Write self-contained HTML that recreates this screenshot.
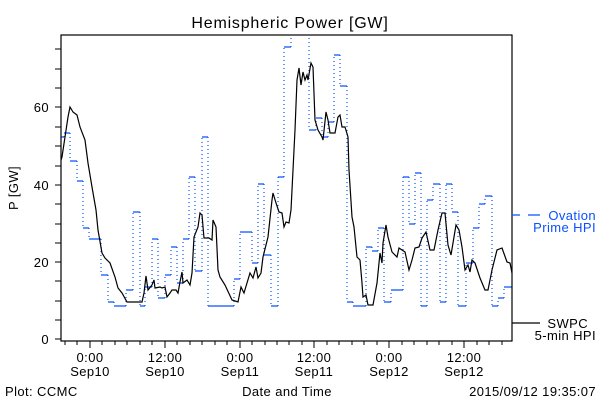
<!DOCTYPE html>
<html><head><meta charset="utf-8"><style>
html,body{margin:0;padding:0;background:#fff;}
svg{display:block;font-family:"Liberation Sans",sans-serif;}
text{letter-spacing:0.4px;}
</style></head><body>
<svg width="600" height="400" viewBox="0 0 600 400" xmlns="http://www.w3.org/2000/svg">
<rect width="600" height="400" fill="#fff"/>
<text x="290" y="28" font-size="16" text-anchor="middle" style="letter-spacing:0.8px">Hemispheric Power [GW]</text>
<defs><clipPath id="c"><rect x="61" y="35" width="451" height="306"/></clipPath></defs>
<g clip-path="url(#c)">
<g id="blue" stroke="#0a50ff" stroke-width="1.2" fill="none">
<path d="M61,137H64 M64,133H70 M70,161H77 M77,181H83 M83,228H89 M89,239H101 M101,275H108 M108,302H114 M114,306H126 M126,290H133 M133,212H140 M140,306H145 M145,287H152 M152,239H158 M158,298H165 M165,275H171 M171,247H177 M177,283H183 M183,239H189 M189,177H195 M195,271H202 M202,137H208 M208,306H234 M234,279H240 M240,232H252 M252,263H258 M258,184H264 M264,255H271 M271,306H278 M278,177H284 M284,47H291 M291,30H309 M309,130H316 M316,118H322 M322,137H328 M328,122H334 M334,55H340 M340,86H347 M347,302H353 M353,306H366 M366,247H372 M372,251H378 M378,228H384 M384,302H391 M391,290H403 M403,177H409 M409,224H415 M415,173H421 M421,306H427 M427,200H433 M433,184H440 M440,302H446 M446,184H452 M452,212H458 M458,306H466 M466,263H473 M473,228H479 M479,204H485 M485,196H492 M492,306H498 M498,298H504 M504,287H510 M510,287H512"/>
<path stroke-dasharray="1,3" d="M64,137V133 M70,133V161 M77,161V181 M83,181V228 M89,228V239 M101,239V275 M108,275V302 M114,302V306 M126,306V290 M133,290V212 M140,212V306 M145,306V287 M152,287V239 M158,239V298 M165,298V275 M171,275V247 M177,247V283 M183,283V239 M189,239V177 M195,177V271 M202,271V137 M208,137V306 M234,306V279 M240,279V232 M252,232V263 M258,263V184 M264,184V255 M271,255V306 M278,306V177 M284,177V47 M291,47V30 M309,30V130 M316,130V118 M322,118V137 M328,137V122 M334,122V55 M340,55V86 M347,86V302 M353,302V306 M366,306V247 M372,247V251 M378,251V228 M384,228V302 M391,302V290 M403,290V177 M409,177V224 M415,224V173 M421,173V306 M427,306V200 M433,200V184 M440,184V302 M446,302V184 M452,184V212 M458,212V306 M466,306V263 M473,263V228 M479,228V204 M485,204V196 M492,196V306 M498,306V298 M504,298V287"/>
</g>
<polyline fill="none" stroke="#000" stroke-width="1.2" points="61,160 62,157 65,137 68,117 70,107 73,112 77,115 80,127 85,140 88,163 92,187 96,210 98,230 102,253 105,258 110,263 115,277 118,288 122,293 127,302 142,302 144,293 146,276 148,290 152,285 154,280 155,288 160,287 162,288 165,287 167,297 170,293 172,290 176,290 178,293 180,282 182,272 183,283 187,280 190,285 192,273 194,237 198,227 200,213 202,215 204,238 209,238 212,240 213,220 216,227 218,270 220,277 225,285 232,300 238,302 241,287 244,293 250,273 253,278 256,267 258,278 261,273 263,257 268,237 272,200 273,193 276,203 279,212 282,213 284,227 286,222 289,223 291,210 293,170 295,130 297,80 299,68 301,85 303,72 305,80 307,75 308,80 311,63 313,67 315,120 318,130 322,137 323,140 326,112 328,120 330,133 335,133 338,117 340,115 342,127 345,127 348,137 349,170 352,217 354,227 357,257 360,260 362,283 363,297 366,295 368,305 373,305 377,283 380,253 382,263 383,243 386,225 388,237 392,252 397,257 399,248 405,252 409,270 412,260 415,248 419,247 422,238 426,232 430,250 434,250 438,230 442,213 445,213 448,245 451,255 456,225 459,230 462,247 465,270 468,265 470,272 472,260 475,263 480,278 485,290 488,290 492,270 497,250 502,248 507,262 510,263 512,273"/>
</g>
<rect x="61" y="35" width="451" height="306" fill="none" stroke="#000" stroke-width="1.2"/>
<g stroke="#000" stroke-width="1">
<path d="M55,339H61 M55,320H61 M55,301H61 M55,281H61 M55,262H61 M55,243H61 M55,224H61 M55,204H61 M55,185H61 M55,166H61 M55,146H61 M55,127H61 M55,107H61 M55,88H61 M55,69H61 M55,49H61"/>
<path d="M90,341V348 M165,341V348 M240,341V348 M314,341V348 M389,341V348 M464,341V348"/>
<path d="M65,341V345 M77,341V345 M102,341V345 M115,341V345 M127,341V345 M140,341V345 M152,341V345 M177,341V345 M190,341V345 M202,341V345 M215,341V345 M227,341V345 M252,341V345 M265,341V345 M277,341V345 M289,341V345 M302,341V345 M327,341V345 M339,341V345 M352,341V345 M364,341V345 M377,341V345 M402,341V345 M414,341V345 M427,341V345 M439,341V345 M452,341V345 M477,341V345 M489,341V345 M502,341V345"/>
</g>
<g font-size="13" text-anchor="end">
<text x="49" y="344">0</text><text x="49" y="267">20</text><text x="49" y="190">40</text><text x="49" y="112">60</text>
</g>
<text x="18" y="188" font-size="13" text-anchor="middle" transform="rotate(-90 18 188)">P [GW]</text>
<g font-size="13" text-anchor="middle">
<text x="90" y="362">0:00</text><text x="90" y="376">Sep10</text>
<text x="165" y="362">12:00</text><text x="165" y="376">Sep10</text>
<text x="240" y="362">0:00</text><text x="240" y="376">Sep11</text>
<text x="314" y="362">12:00</text><text x="314" y="376">Sep11</text>
<text x="389" y="362">0:00</text><text x="389" y="376">Sep12</text>
<text x="464" y="362">12:00</text><text x="464" y="376">Sep12</text>
<text x="287" y="396">Date and Time</text>
</g>
<text x="5" y="396" font-size="13">Plot: CCMC</text>
<text x="596" y="396" font-size="13" text-anchor="end">2015/09/12 19:35:07</text>
<path d="M512,215H520 M528,215H540" stroke="#0a50ff" stroke-width="1.2"/>
<text x="596" y="220" font-size="13" fill="#0a50ff" text-anchor="end">Ovation</text>
<text x="596" y="232" font-size="13" fill="#0a50ff" text-anchor="end">Prime HPI</text>
<path d="M512,323H540" stroke="#000" stroke-width="1.2"/>
<text x="588" y="328" font-size="13" text-anchor="end">SWPC</text>
<text x="596" y="340" font-size="13" text-anchor="end">5-min HPI</text>
</svg>
</body></html>
